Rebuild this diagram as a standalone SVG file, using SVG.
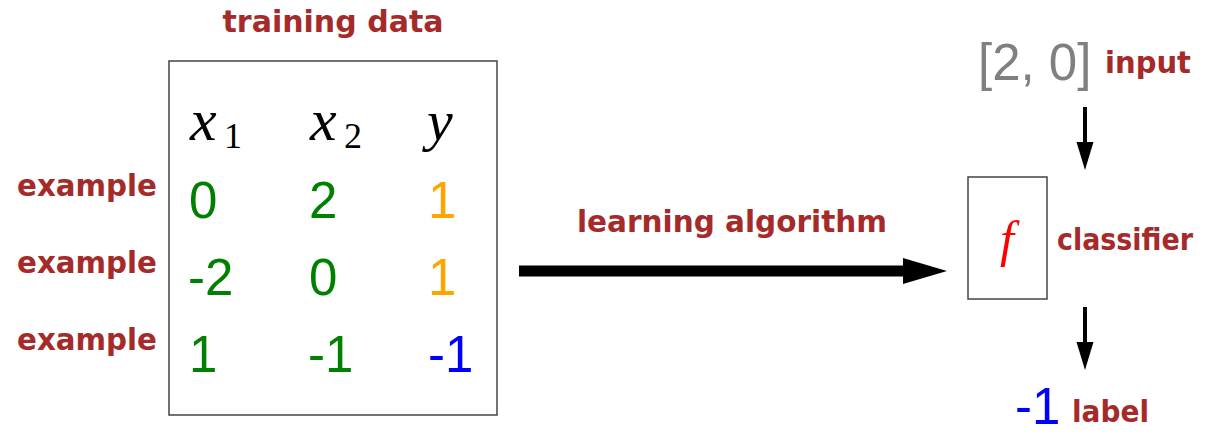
<svg xmlns="http://www.w3.org/2000/svg" width="1205" height="435" viewBox="0 0 1205 435">
<style>
.lbl{font-family:"DejaVu Sans","Liberation Sans",sans-serif;font-weight:bold;font-size:30px;fill:#a52a2a}
.num{font-family:"Liberation Sans",Arial,sans-serif;font-size:51px}
.g{fill:#008000}.o{fill:#ffa500}.b{fill:#0000ff}
.math{font-family:"Liberation Serif","Times New Roman",serif;font-style:italic;fill:#000}
.red{fill:#ff0000}
.sub{font-family:"Liberation Serif","Times New Roman",serif;font-size:36px;fill:#000}
.box{fill:none;stroke:#444;stroke-width:1.5}
.shaft{stroke:#000;fill:none}
.head{fill:#000}
</style>
<g id="training-data">
<text class="lbl" x="333" y="32" text-anchor="middle" textLength="221" lengthAdjust="spacingAndGlyphs">training data</text>
<rect class="box" x="169" y="61" width="328" height="354"/>
<text class="math" x="190" y="140" font-size="60">x</text><text class="sub" x="224" y="148">1</text>
<text class="math" x="310" y="140" font-size="60">x</text><text class="sub" x="344" y="148">2</text>
<text class="math" x="427" y="140" font-size="58">y</text>
<text class="num g" x="189" y="218">0</text><text class="num g" x="309" y="218">2</text><text class="num o" x="428" y="218">1</text>
<text class="num g" x="188" y="295">-2</text><text class="num g" x="309" y="295">0</text><text class="num o" x="428" y="295">1</text>
<text class="num g" x="189" y="372">1</text><text class="num g" x="308" y="372">-1</text><text class="num b" x="428" y="372">-1</text>
</g>
<g id="examples">
<text class="lbl" x="157" y="196" text-anchor="end" textLength="140" lengthAdjust="spacingAndGlyphs">example</text>
<text class="lbl" x="157" y="273" text-anchor="end" textLength="140" lengthAdjust="spacingAndGlyphs">example</text>
<text class="lbl" x="157" y="350" text-anchor="end" textLength="140" lengthAdjust="spacingAndGlyphs">example</text>
</g>
<g id="input">
<text class="num" x="978" y="80" font-size="47" fill="#808080">[2, 0]</text>
<text class="lbl" x="1105" y="73" textLength="86" lengthAdjust="spacingAndGlyphs">input</text>
</g>
<g id="classifier">
<rect class="box" x="968" y="177" width="79" height="122" stroke="#222"/>
<text class="math red" x="1007" y="256" font-size="50" text-anchor="middle">f</text>
<text class="lbl" x="1057" y="250" font-size="27" textLength="136" lengthAdjust="spacingAndGlyphs">classifier</text>
</g>
<g id="output">
<text class="num b" x="1015" y="424" font-size="47">-1</text>
<text class="lbl" x="1072" y="422" textLength="77" lengthAdjust="spacingAndGlyphs">label</text>
</g>
<g id="connectors">
<path class="shaft" d="M519,271 H904" stroke-width="11"/>
<path class="head" d="M903,258 L947,271 L903,284 z"/>
<text class="lbl" x="732" y="232" text-anchor="middle" textLength="310" lengthAdjust="spacingAndGlyphs">learning algorithm</text>
<path class="shaft" d="M1085,107 V143" stroke-width="4"/>
<path class="head" d="M1076.5,142 L1093.5,142 L1085,170 z"/>
<path class="shaft" d="M1085,307 V343" stroke-width="4"/>
<path class="head" d="M1076.5,342 L1093.5,342 L1085,370 z"/>
</g>
</svg>
